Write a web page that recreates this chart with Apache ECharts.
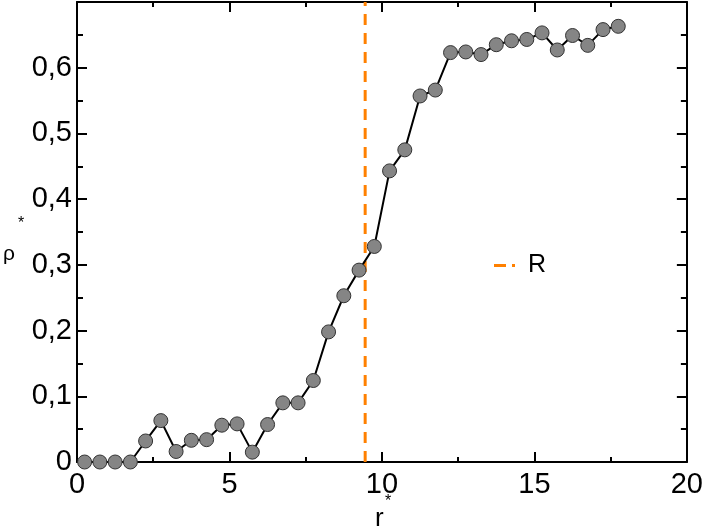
<!DOCTYPE html>
<html>
<head>
<meta charset="utf-8">
<script src="https://cdn.jsdelivr.net/npm/echarts@6/dist/echarts.min.js"></script>
<style>html,body{margin:0;padding:0;background:#fff}#c{width:706px;height:531px}</style>
</head>
<body>
<div id="c"></div>
<script>
// Data
var rValues = [0.25,0.75,1.25,1.75,2.25,2.75,3.25,3.75,4.25,4.75,5.25,5.75,6.25,6.75,7.25,7.75,8.25,8.75,9.25,9.75,10.25,10.75,11.25,11.75,12.25,12.75,13.25,13.75,14.25,14.75,15.25,15.75,16.25,16.75,17.25,17.75];
var rhoValues = [0,0,0,0,0.032,0.063,0.016,0.033,0.034,0.056,0.058,0.015,0.057,0.090,0.090,0.124,0.198,0.253,0.292,0.328,0.443,0.475,0.557,0.566,0.623,0.624,0.620,0.635,0.641,0.643,0.653,0.627,0.649,0.634,0.658,0.663];
var R = 9.45;
var rLine = [[R, 0], [R, 0.7]];
var xTicks = {min: 0, max: 20, interval: 5};
var yTicks = {min: 0, max: 0.7, interval: 0.1};

var pts = rValues.map(function (x, i) { return [x, rhoValues[i]]; });
var FONT = 'Liberation Sans';
function line() { return {show: true, onZero: false, lineStyle: {color: '#000', width: 2}}; }
function tick(len) { return {show: true, inside: true, length: len, lineStyle: {width: 2, color: '#000'}}; }
function yFmt(v) {
  if (Math.abs(v) < 1e-9) return '0';
  if (Math.abs(v - 0.7) < 1e-6) return '';
  return v.toFixed(1).replace('.', ',');
}
var chart = echarts.init(document.getElementById('c'));
chart.setOption({
  animation: false,
  backgroundColor: '#fff',
  grid: {left: 77, right: 18, top: 2, bottom: 69},
  legend: {
    data: [{name: 'R', icon: 'path://M0,0h12v3h-12zM18,0h3v3h-3z'}],
    left: 489, top: 248,
    itemWidth: 21, itemHeight: 3,
    textStyle: {fontFamily: FONT, fontSize: 25, color: '#000', padding: [0, 0, 0, 8]},
    itemStyle: {color: '#ff8000'}
  },
  xAxis: [{
    type: 'value', position: 'bottom', min: xTicks.min, max: xTicks.max, interval: xTicks.interval,
    axisLine: line(), axisTick: tick(10),
    minorTick: {show: true, splitNumber: 2, length: 5, lineStyle: {width: 2, color: '#000'}},
    splitLine: {show: false},
    axisLabel: {fontFamily: FONT, fontSize: 29, color: '#000', margin: 8}
  }, {
    type: 'value', position: 'top', min: xTicks.min, max: xTicks.max, interval: xTicks.interval,
    axisLine: line(), axisTick: tick(10),
    minorTick: {show: true, splitNumber: 2, length: 5, lineStyle: {width: 2, color: '#000'}},
    splitLine: {show: false}, axisLabel: {show: false}
  }],
  yAxis: [{
    type: 'value', position: 'left', min: yTicks.min, max: yTicks.max, interval: yTicks.interval,
    axisLine: line(), axisTick: tick(10),
    minorTick: {show: true, splitNumber: 2, length: 6, lineStyle: {width: 2, color: '#000'}},
    splitLine: {show: false},
    axisLabel: {fontFamily: FONT, fontSize: 29, color: '#000', margin: 5, formatter: yFmt}
  }, {
    type: 'value', position: 'right', min: yTicks.min, max: yTicks.max, interval: yTicks.interval,
    axisLine: line(), axisTick: tick(10),
    minorTick: {show: true, splitNumber: 2, length: 6, lineStyle: {width: 2, color: '#000'}},
    splitLine: {show: false}, axisLabel: {show: false}
  }],
  series: [{
    name: 'rho', type: 'line', data: pts,
    lineStyle: {color: '#000', width: 2},
    symbol: 'circle', symbolSize: 14,
    itemStyle: {color: '#858585', borderColor: '#333', borderWidth: 1},
    z: 3
  }, {
    name: 'R', type: 'line', data: rLine, symbol: 'none',
    lineStyle: {color: '#ff8000', width: 3, type: [11, 8]},
    itemStyle: {color: '#ff8000'}, z: 2
  }],
  graphic: [
    {type: 'text', left: 3, top: 244, style: {text: 'ρ', font: '21px "Liberation Sans"', fill: '#000'}},
    {type: 'text', left: 18, top: 216, style: {text: '*', font: '16px "Liberation Sans"', fill: '#000'}},
    {type: 'text', left: 375, top: 506, style: {text: 'r', font: '26px "Liberation Sans"', fill: '#000'}},
    {type: 'text', left: 385, top: 494, style: {text: '*', font: '16px "Liberation Sans"', fill: '#000'}}
  ]
});
</script>
</body>
</html>
